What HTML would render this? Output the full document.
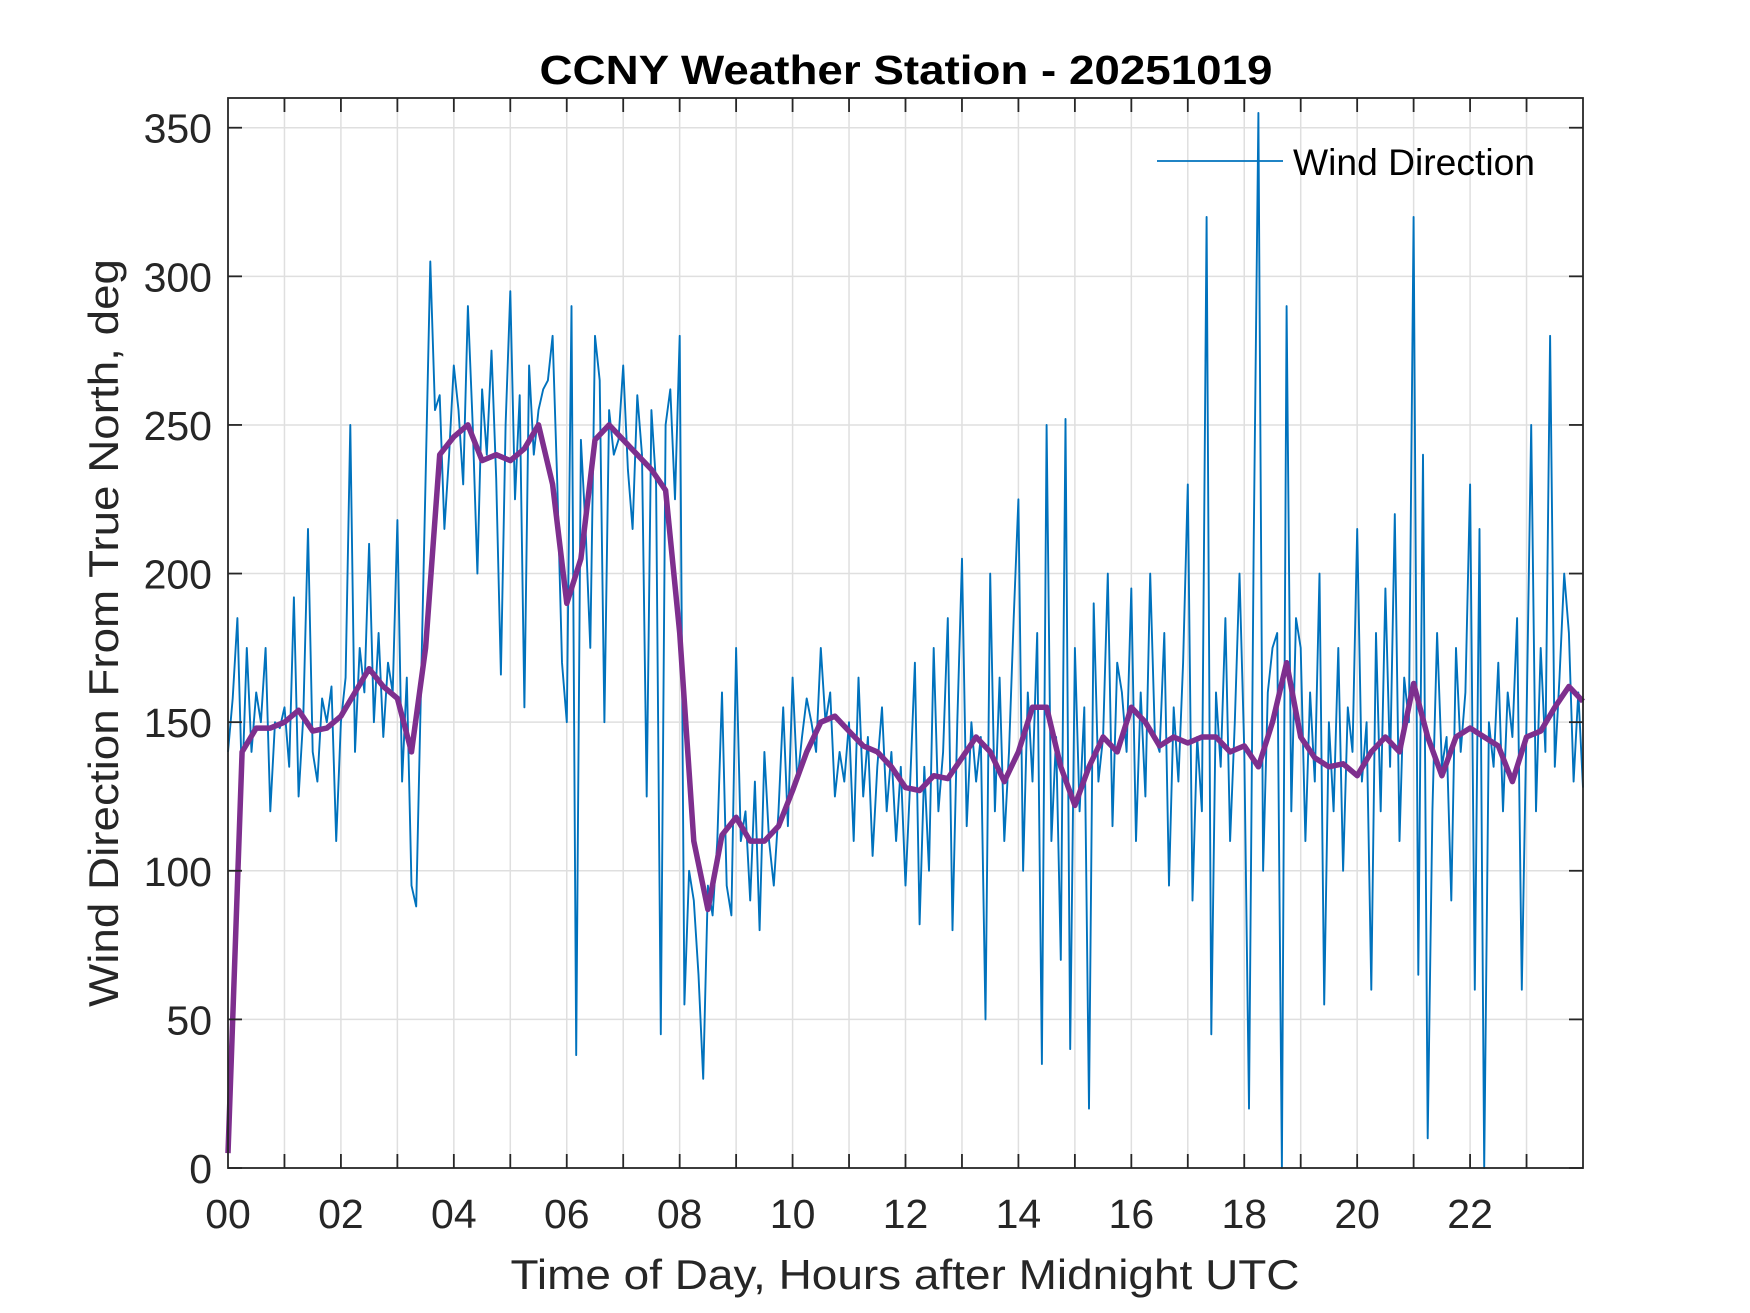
<!DOCTYPE html>
<html><head><meta charset="utf-8"><style>
html,body{margin:0;padding:0;background:#fff;}
svg{display:block;font-family:"Liberation Sans",Arial,sans-serif;}
</style></head><body>
<svg id="chart" width="1750" height="1313" viewBox="0 0 1750 1313" xmlns="http://www.w3.org/2000/svg">
<rect x="0" y="0" width="1750" height="1313" fill="#fff"/>
<rect x="228" y="98" width="1355" height="1070" fill="#fff"/>
<g id="grid"></g>
<g id="series"></g>
<g id="axes"></g>
<text x="906" y="84" text-anchor="middle" font-size="41" font-weight="bold" fill="#000" textLength="733" lengthAdjust="spacingAndGlyphs">CCNY Weather Station - 20251019</text>
<text x="905" y="1289" text-anchor="middle" font-size="42" fill="#262626" textLength="789" lengthAdjust="spacingAndGlyphs">Time of Day, Hours after Midnight UTC</text>
<text transform="translate(118,633) rotate(-90)" text-anchor="middle" font-size="42" fill="#262626" textLength="748" lengthAdjust="spacingAndGlyphs">Wind Direction From True North, deg</text>
<g>
<line x1="1157" y1="161" x2="1283" y2="161" stroke="#0072BD" stroke-width="1.8"/>
<text x="1293" y="175" font-size="37" fill="#000" textLength="242" lengthAdjust="spacingAndGlyphs">Wind Direction</text>
</g>
</svg>
<script>
const rawValues = [
140,158,185,128,175,140,160,150,175,120,150,148,
155,135,192,125,152,215,140,130,158,150,162,110,
150,165,250,140,175,160,210,150,180,145,170,160,
218,130,165,95,88,160,232,305,255,260,215,240,
270,255,230,290,250,200,262,240,275,232,166,250,
295,225,260,155,270,240,255,262,265,280,230,170,
150,290,38,245,215,175,280,265,150,255,240,245,
270,235,215,260,240,125,255,230,45,250,262,225,
280,55,100,90,65,30,95,85,110,160,95,85,
175,110,120,90,130,80,140,110,95,120,155,115,
165,130,145,158,150,140,175,150,160,125,140,130,
150,110,165,125,145,105,135,155,120,140,110,135,
95,130,170,82,135,100,175,120,140,185,80,150,
205,115,150,130,145,50,200,120,165,110,140,185,
225,100,160,130,180,35,250,110,145,70,252,40,
175,120,155,20,190,130,145,200,115,170,160,140,
195,110,160,125,200,145,140,180,95,155,130,170,
230,90,145,120,320,45,160,135,185,110,150,200,
140,20,210,355,100,160,175,180,0,290,120,185,
175,110,160,130,200,55,150,120,175,100,155,140,
215,130,150,60,180,120,195,135,220,110,165,150,
320,65,240,10,120,180,135,145,90,175,140,160,
230,60,215,0,150,135,170,120,160,145,185,60,
150,250,120,175,140,280,135,165,200,180,130,160,
128];
const smoothValues = [
5,140,148,148,150,154,147,148,152,160,168,162,
158,140,175,240,246,250,238,240,238,242,250,230,
190,205,245,250,245,240,235,228,180,110,87,112,
118,110,110,115,127,140,150,152,147,142,140,135,
128,127,132,131,138,145,140,130,140,155,155,135,
122,135,145,140,155,150,142,145,143,145,145,140,
142,135,150,170,145,138,135,136,132,140,145,140,
163,145,132,145,148,145,142,130,145,147,155,162,157];
const xTickLabels = ["00","02","04","06","08","10","12","14","16","18","20","22"];
const yTickValues = [0,50,100,150,200,250,300,350];

const NS = "http://www.w3.org/2000/svg";
const L=228,R=1583,T=98,B=1168;
function xs(h){return L+(h/24)*(R-L);}
function ys(v){return B-(v/360)*(B-T);}
function mk(tag,attrs,parent){const e=document.createElementNS(NS,tag);for(const k in attrs)e.setAttribute(k,attrs[k]);parent.appendChild(e);return e;}
const grid=document.getElementById('grid'),axes=document.getElementById('axes'),series=document.getElementById('series');
for(let h=1;h<24;h++){
  const g=mk('line',{x1:xs(h),x2:xs(h),y1:T,y2:B,stroke:'#dfdfdf','stroke-width':1.5},grid);
  
  
}
yTickValues.forEach(v=>{
  if(v>0){const g=mk('line',{x1:L,x2:R,y1:ys(v),y2:ys(v),stroke:'#dfdfdf','stroke-width':1.5},grid);
  
  }
});
const rawStep=24/(rawValues.length-1);
let d='';rawValues.forEach((v,i)=>{d+=(i?'L':'M')+xs(i*rawStep).toFixed(1)+','+ys(v).toFixed(1);});
const rp=mk('path',{d:d,fill:'none',stroke:'#0072BD','stroke-width':1.9,'stroke-linejoin':'round'},series);


const smStep=24/(smoothValues.length-1);
d='';smoothValues.forEach((v,i)=>{d+=(i?'L':'M')+xs(i*smStep).toFixed(1)+','+ys(v).toFixed(1);});
const sp=mk('path',{d:d,fill:'none',stroke:'#7E2F8E','stroke-width':5.5,'stroke-linejoin':'round'},series);


const box=mk('rect',{x:L,y:T,width:R-L,height:B-T,fill:'none',stroke:'#262626','stroke-width':1.8},axes);


for(let h=1;h<24;h++){
  const t1=mk('line',{x1:xs(h),x2:xs(h),y1:B,y2:B-14,stroke:'#262626','stroke-width':1.8},axes);
  
  
  const t2=mk('line',{x1:xs(h),x2:xs(h),y1:T,y2:T+14,stroke:'#262626','stroke-width':1.8},axes);
  
  
}
xTickLabels.forEach((lab,i)=>{
  const t=mk('text',{x:xs(i*2),y:1228,'text-anchor':'middle','font-size':41,fill:'#262626'},axes);
  t.textContent=lab;
  
  
});
yTickValues.forEach(v=>{
  const a=mk('line',{x1:L,x2:L+14,y1:ys(v),y2:ys(v),stroke:'#262626','stroke-width':1.8},axes);
  
  
  const b=mk('line',{x1:R,x2:R-14,y1:ys(v),y2:ys(v),stroke:'#262626','stroke-width':1.8},axes);
  
  
  const t=mk('text',{x:212,y:ys(v)+15,'text-anchor':'end','font-size':41,fill:'#262626'},axes);
  t.textContent=v;
  
  
});
</script>
</body></html>
